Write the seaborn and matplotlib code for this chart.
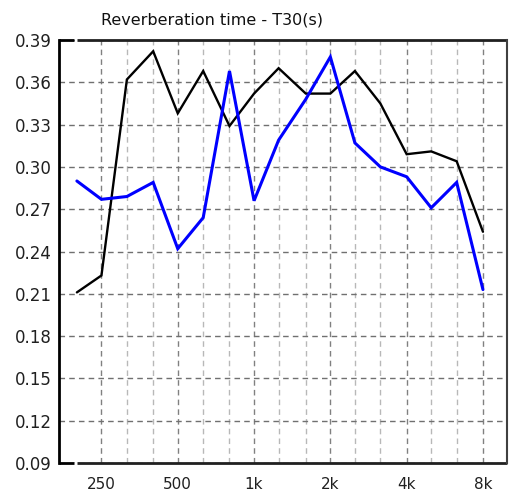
import matplotlib
matplotlib.use("Agg")
import matplotlib.pyplot as plt
import seaborn as sns
import pandas as pd
from matplotlib.ticker import FixedLocator, FixedFormatter, NullFormatter

freqs = [200, 250, 315, 400, 500, 630, 800, 1000, 1250, 1600, 2000, 2500,
         3150, 4000, 5000, 6300, 8000]
black_vals = [0.211, 0.223, 0.362, 0.382, 0.338, 0.368, 0.329, 0.352, 0.370,
              0.352, 0.352, 0.368, 0.345, 0.309, 0.311, 0.304, 0.254]
blue_vals = [0.290, 0.277, 0.279, 0.289, 0.242, 0.264, 0.368, 0.276, 0.319,
             0.348, 0.378, 0.317, 0.300, 0.293, 0.271, 0.289, 0.213]
major_ticks = [250, 500, 1000, 2000, 4000, 8000]
major_labels = ["250", "500", "1k", "2k", "4k", "8k"]
minor_ticks = [315, 400, 630, 800, 1250, 1600, 2500, 3150, 5000, 6300]
y_ticks = [0.09, 0.12, 0.15, 0.18, 0.21, 0.24, 0.27, 0.30, 0.33, 0.36, 0.39]
title = "Reverberation time - T30(s)"

df = pd.DataFrame({
    "freq": freqs * 2,
    "T30": black_vals + blue_vals,
    "series": ["A"] * len(freqs) + ["B"] * len(freqs),
})

sns.set_style("white")
plt.rcParams["font.family"] = ["DejaVu Sans"]

fig = plt.figure(figsize=(5.1, 4.95), dpi=100)
ax = fig.add_axes([59 / 510, 1 - 463 / 495, 448 / 510, 423 / 495])

sns.lineplot(data=df, x="freq", y="T30", hue="series",
             palette={"A": "#000000", "B": "#0000ff"}, legend=False, ax=ax,
             linewidth=1.8)
for ln, lw in zip(ax.get_lines(), [1.7, 2.2]):
    ln.set_linewidth(lw)
    ln.set_solid_joinstyle("miter")

ax.set_xscale("log", base=2)
ax.set_xlim(170, 9953)
ax.set_ylim(0.09, 0.39)
ax.xaxis.set_major_locator(FixedLocator(major_ticks))
ax.xaxis.set_major_formatter(FixedFormatter(major_labels))
ax.xaxis.set_minor_locator(FixedLocator(minor_ticks))
ax.xaxis.set_minor_formatter(NullFormatter())
ax.set_yticks(y_ticks)
ax.set_yticklabels([f"{v:.2f}" for v in y_ticks])
ax.set_xlabel("")
ax.set_ylabel("")

ax.grid(False)
ax.grid(True, which="major", axis="y", color="#707070", linestyle=(0, (4, 3)), linewidth=1.0)
ax.grid(True, which="major", axis="x", color="#808080", linestyle=(0, (4, 3)), linewidth=1.0)
ax.grid(True, which="minor", axis="x", color="#b8b8b8", linestyle=(0, (4, 3)), linewidth=1.0)
ax.set_axisbelow(True)

ax.tick_params(axis="both", which="both", length=0)
ax.tick_params(axis="y", pad=5, labelsize=12, colors="#202020")
ax.tick_params(axis="x", pad=10, labelsize=11, colors="#202020")

for s in ["top", "bottom"]:
    ax.spines[s].set_visible(False)
ax.spines["left"].set_color("#000000")
ax.spines["left"].set_linewidth(2.0)
ax.spines["right"].set_color("#404040")
ax.spines["right"].set_linewidth(1.5)
for yy in [1.0, 0.0]:
    ax.plot([0, 0.0335], [yy, yy], color="#000000", lw=2.0, transform=ax.transAxes,
            clip_on=False, solid_capstyle="butt")
    ax.plot([0.040, 1.0], [yy, yy], color="#202020", lw=2.0, transform=ax.transAxes,
            clip_on=False, solid_capstyle="butt")

fig.text(212 / 510, 1 - 20 / 495, title, ha="center", va="center",
         fontsize=11.5, color="#101010")

fig.savefig("out.png", dpi=100)
